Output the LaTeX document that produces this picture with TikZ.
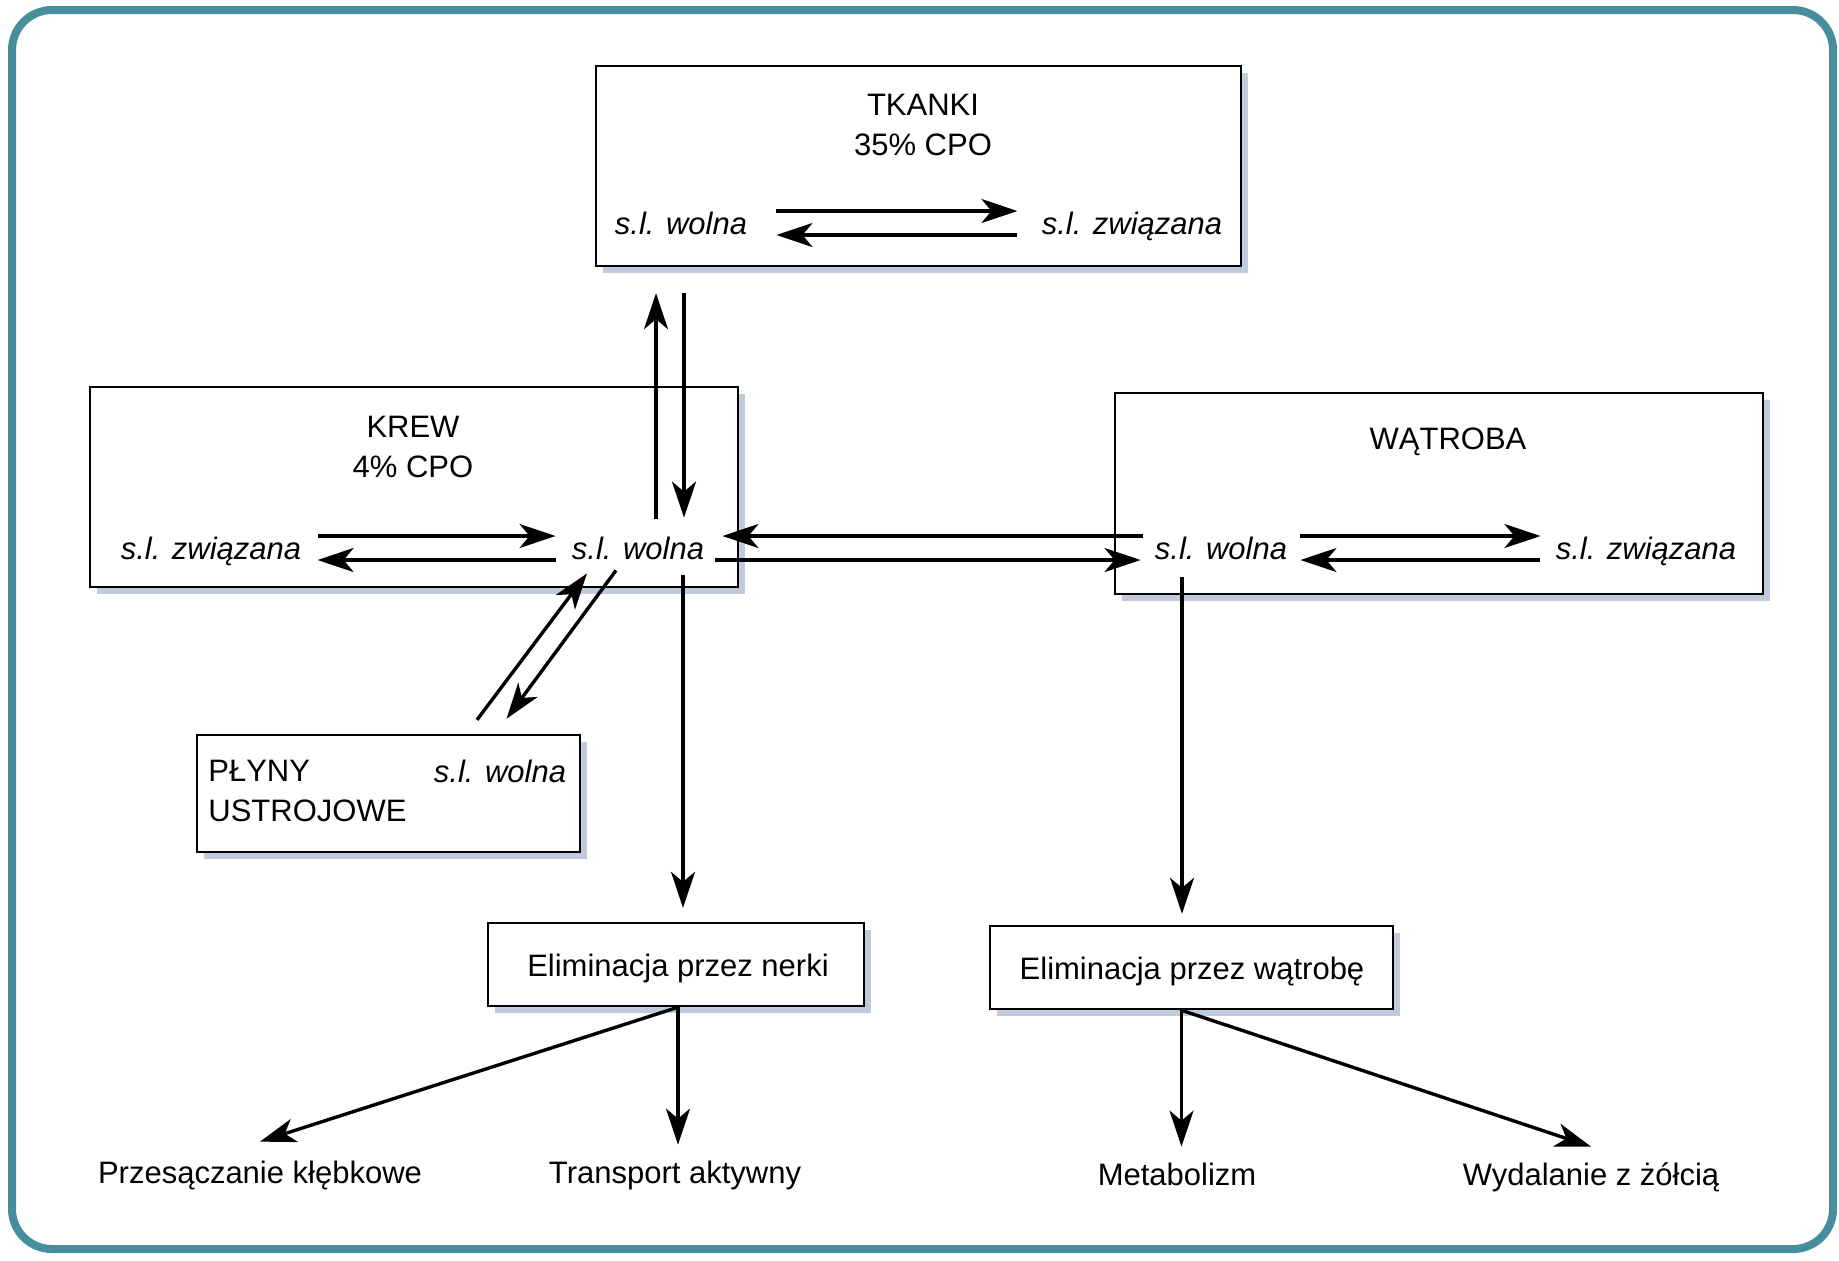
\documentclass[tikz,border=0pt]{standalone}
\usepackage{fontspec}
\setmainfont{Liberation Sans}
\usepackage{tikz}
\usetikzlibrary{arrows.meta,fit,shadows}
\definecolor{frameteal}{RGB}{70,142,156}
\definecolor{shadowblue}{RGB}{180,194,214}
\newcommand{\organbox}[3]{
	\node[box, fit={(#2) (#3)}] (#1) {};
}
\newcommand{\pair}[4]{
	\draw[arr] ([shift={(#3,6pt)}]#1.east) -- ([shift={(-#4,6pt)}]#2.west);
	\draw[arr] ([shift={(-#4,-6pt)}]#2.west) -- ([shift={(#3,-6pt)}]#1.east);
}

\begin{document}
\begin{tikzpicture}[x=0.5pt, y=-0.5pt,
	box/.style={draw, line width=1.2pt, inner sep=0pt, fill=white,
		drop shadow={shadow xshift=3.5pt, shadow yshift=-3.5pt, fill=shadowblue, opacity=0.85}},
	txt/.style={inner sep=0pt, text height=11pt, text depth=0pt, font=\fontsize{15.5}{20}\selectfont},
	sl/.style={txt, font=\fontsize{15.5}{20}\selectfont\itshape},
	heading/.style={inner sep=0pt, align=center, font=\fontsize{15.5}{20}\selectfont},
	arr/.style={line width=1.7pt, -{Stealth[length=18pt,width=12pt,inset=5pt]}},
	outerframe/.style={draw=frameteal, line width=4pt, rounded corners=20pt}]
	\useasboundingbox (0,0) rectangle (1839,1260);
	\draw[outerframe] (12,10) rectangle (1833,1249);
	
	% boxes
	\organbox{tkanki}{596,66}{1241,266}
	\organbox{krew}{90,387}{738,587}
	\organbox{watroba}{1115,393}{1763,594}
	\organbox{plyny}{197,735}{580,852}
	\organbox{nerki}{488,923}{864,1006}
	\organbox{watrobe}{990,926}{1393,1009}
	
	% texts
	\node[heading] (tkt) at (923,125) {TKANKI\\35\% CPO};
	\node[heading] (krt) at (413,447) {KREW\\4\% CPO};
	\node[txt] (wat) at (1448,438) {WĄTROBA};
	\node[heading, align=left, anchor=west] (plt) at (208,791) {PŁYNY\\USTROJOWE};
	\node[txt] (nerkit) at (678,965) {Eliminacja przez nerki};
	\node[txt] (watrobet) at (1192,968) {Eliminacja przez wątrobę};
	\node[sl] (tkw) at (681,223) {s.l. wolna};
	\node[sl] (tkz) at (1132,223) {s.l. związana};
	\node[sl] (krz) at (211,548) {s.l. związana};
	\node[sl] (krw) at (638,548) {s.l. wolna};
	\node[sl] (waw) at (1221,548) {s.l. wolna};
	\node[sl] (waz) at (1646,548) {s.l. związana};
	\node[sl] (plw) at (500,771) {s.l. wolna};
	\node[txt] (przes) at (260,1172) {Przesączanie kłębkowe};
	\node[txt] (transp) at (675,1172) {Transport aktywny};
	\node[txt] (metab) at (1177,1174) {Metabolizm};
	\node[txt] (wydal) at (1591,1174) {Wydalanie z żółcią};
	
	% arrows
	\pair{tkw}{tkz}{14.5pt}{12pt}
	\pair{krz}{krw}{8pt}{8pt}
	\pair{waw}{waz}{6.5pt}{7.5pt}
	\draw[arr] ([xshift=9pt,yshift=9pt]krw.north) -- ([xshift=9pt,yshift=-13pt]krw.north |- tkanki.south);
	\draw[arr] ([xshift=23pt,yshift=-13pt]krw.north |- tkanki.south) -- ([xshift=23pt,yshift=9.5pt]krw.north);
	\draw[arr] ([shift={(-6pt,6pt)}]waw.west) -- ([shift={(9pt,6pt)}]krw.east);
	\draw[arr] ([shift={(5.5pt,-6pt)}]krw.east) -- ([shift={(-7pt,-6pt)}]waw.west);
	\draw[arr] ([shift={(44.25pt,7pt)}]plyny.north) -- ([shift={(-25.5pt,-7pt)}]krw.south);
	\draw[arr] ([shift={(-11pt,-5.5pt)}]krw.south) -- ([shift={(59pt,7.5pt)}]plyny.north);
	\draw[arr] ([xshift=22.5pt,yshift=-8pt]krw.south) -- ([xshift=22.5pt,yshift=7pt]krw.south |- nerki.north);
	\draw[arr] ([xshift=-19.5pt,yshift=-9pt]waw.south) -- ([xshift=-19.5pt,yshift=5.5pt]waw.south |- watrobe.north);
	\draw[arr] ([xshift=1pt]nerki.south) -- ([yshift=9.5pt]przes.north);
	\draw[arr] ([xshift=1pt]nerki.south) -- ([xshift=1pt,yshift=8pt]nerki.south |- transp.north);
	\draw[arr] ([xshift=-5pt]watrobe.south) -- ([xshift=-5pt,yshift=8pt]watrobe.south |- metab.north);
	\draw[arr] ([xshift=-5pt]watrobe.south) -- ([yshift=8pt]wydal.north);
\end{tikzpicture}
\end{document}
